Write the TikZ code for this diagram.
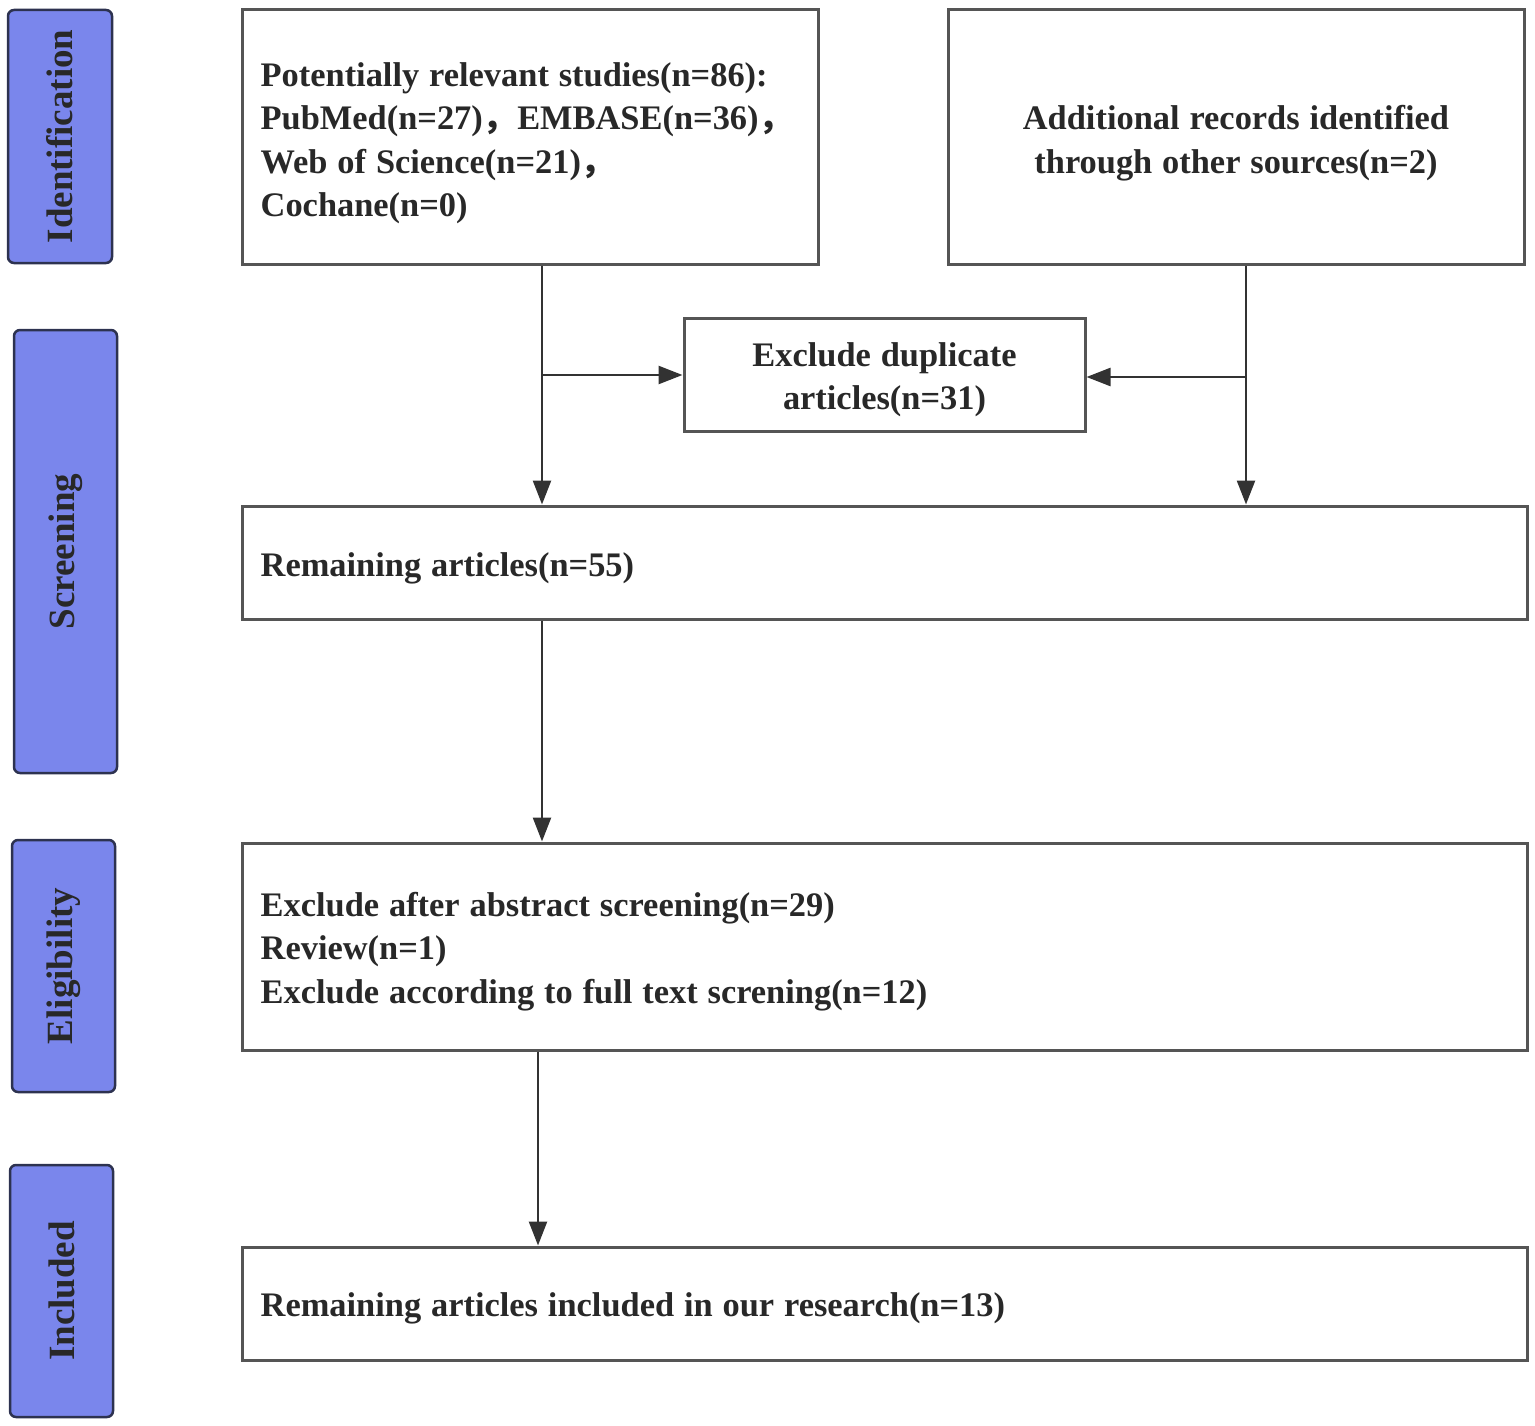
\documentclass[tikz,border=0pt]{standalone}
\usepackage{fontspec}
\setmainfont{Liberation Serif}[WordSpace=1.15]
\newfontfamily\cjk{Noto Sans CJK SC}
\usetikzlibrary{arrows.meta}
\definecolor{phaseblue}{RGB}{122,134,236}
\definecolor{phaseborder}{RGB}{45,50,80}
\definecolor{boxborder}{RGB}{85,85,85}
\definecolor{txt}{RGB}{40,40,40}
\definecolor{arrcol}{RGB}{50,50,50}
\newcommand{\fwc}{{\cjk\bfseries ，}}
\begin{document}
\begin{tikzpicture}[x=1pt,y=-1pt,
  phase/.style={draw=phaseborder, line width=2.5pt, fill=phaseblue, rounded corners=6pt,
    inner sep=0pt, rotate=90, text=txt, font=\fontsize{37}{40}\selectfont\bfseries},
  box/.style={draw=boxborder, line width=3pt, fill=white, inner sep=0pt},
  txtl/.style={inner sep=0pt, anchor=west, align=left, text=txt,
    font=\fontsize{34.4}{43.5}\selectfont\bfseries},
  txtc/.style={txtl, anchor=center, align=center},
  arr/.style={draw=arrcol, line width=2.5pt, -{Triangle[length=24pt,width=18pt]}}]
\useasboundingbox (0,0) rectangle (1535,1426);
% phase labels
\node[phase, minimum width=253pt, minimum height=104pt] (p1) at (60,136.5) {Identification};
\node[phase, minimum width=443pt, minimum height=103pt] (p2) at (65.5,551.5) {Screening};
\node[phase, minimum width=252pt, minimum height=103pt] (p3) at (63.5,966) {Eligibility};
\node[phase, minimum width=252pt, minimum height=103pt] (p4) at (61.5,1291) {Included};
% boxes
\node[box, minimum width=576pt, minimum height=254pt] (A) at (530,137) {};
\node[box, minimum width=576pt, minimum height=254pt] (B) at (1236,137) {};
\node[box, minimum width=401pt, minimum height=113pt] (dup) at (884.5,374.5) {};
\node[box, minimum width=1285pt, minimum height=113pt] (rem) at (884.5,562.5) {};
\node[box, minimum width=1285pt, minimum height=207pt] (elig) at (884.5,946.5) {};
\node[box, minimum width=1285pt, minimum height=113pt] (incl) at (884.5,1303.5) {};
% texts
\node[txtl] (At) at ([xshift=20pt,yshift=-6pt]A.west)
  {Potentially relevant studies(n=86):\\PubMed(n=27)\fwc EMBASE(n=36)\fwc\\Web of Science(n=21)\fwc\\Cochane(n=0)};
\node[txtc] (Bt) at ([yshift=-6pt]B.center)
  {Additional records identified\\through other sources(n=2)};
\node[txtc] (dupt) at ([yshift=-5pt]dup.center)
  {Exclude duplicate\\articles(n=31)};
\node[txtl] (remt) at ([xshift=20pt,yshift=-6pt]rem.west)
  {Remaining articles(n=55)};
\node[txtl] (eligt) at ([xshift=20pt,yshift=-5pt]elig.west)
  {Exclude after abstract screening(n=29)\\Review(n=1)\\Exclude according to full text screning(n=12)};
\node[txtl] (inclt) at ([xshift=20pt,yshift=-5pt]incl.west)
  {Remaining articles included in our research(n=13)};
% connectors
\coordinate (xa) at (542,0);
\coordinate (xb) at (1246,0);
\coordinate (xc) at (538,0);
\coordinate (ya) at (0,375);
\coordinate (yb) at (0,377);
\draw[arr] (A.south -| xa) -- (rem.north -| xa);
\draw[arr] (xa |- ya) -- (dup.west |- ya);
\draw[arr] (B.south -| xb) -- (rem.north -| xb);
\draw[arr] (xb |- yb) -- (dup.east |- yb);
\draw[arr] (rem.south -| xa) -- (elig.north -| xa);
\draw[arr] (elig.south -| xc) -- (incl.north -| xc);
\end{tikzpicture}
\end{document}
